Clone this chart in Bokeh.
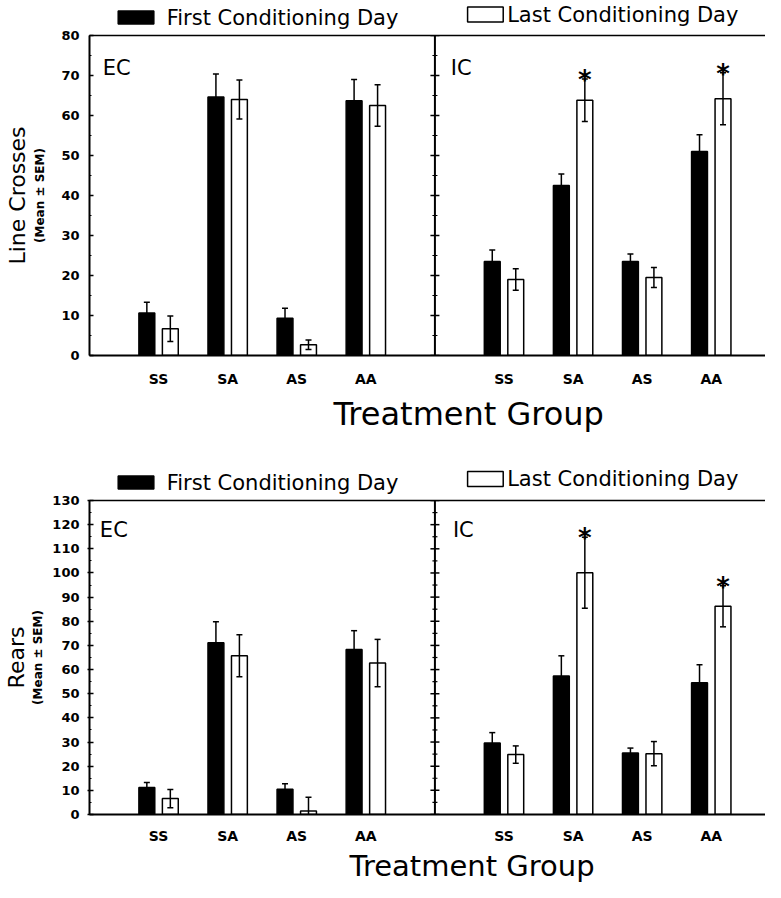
import numpy as np
from bokeh.plotting import figure
from bokeh.models import (Range1d, LinearAxis, FixedTicker, SingleIntervalTicker, Span,
                          Label, Whisker, TeeHead, ColumnDataSource, Title)
from bokeh.layouts import column
from bokeh.embed import file_html
from bokeh.resources import INLINE
from bokeh.core.properties import value

# ---------------- data ----------------
groups = ["SS", "SA", "AS", "AA"]
housing = ["EC", "IC"]
series_names = ["First Conditioning Day", "Last Conditioning Day"]
series_fill = ["black", "white"]

# Line crosses (mean, SEM)
lc_ec_first = [10.6, 64.6, 9.3, 63.7]
lc_ec_first_sem = [2.7, 5.8, 2.5, 5.3]
lc_ec_last = [6.7, 64.0, 2.7, 62.5]
lc_ec_last_sem = [3.2, 4.9, 1.2, 5.2]
lc_ic_first = [23.5, 42.5, 23.5, 51.0]
lc_ic_first_sem = [2.9, 2.9, 1.9, 4.2]
lc_ic_last = [19.0, 63.8, 19.5, 64.2]
lc_ic_last_sem = [2.7, 5.3, 2.5, 6.5]
lc_ic_sig = [False, True, False, True]

# Rears (mean, SEM)
re_ec_first = [11.2, 71.1, 10.5, 68.3]
re_ec_first_sem = [2.1, 8.7, 2.2, 7.8]
re_ec_last = [6.6, 65.7, 1.4, 62.7]
re_ec_last_sem = [3.8, 8.7, 5.7, 9.8]
re_ic_first = [29.6, 57.3, 25.5, 54.5]
re_ic_first_sem = [4.3, 8.4, 2.0, 7.5]
re_ic_last = [24.8, 100.1, 25.2, 86.2]
re_ic_last_sem = [3.6, 14.7, 5.0, 8.5]
re_ic_sig = [False, True, False, True]

FONT = "DejaVu Sans"
W = 765          # canvas width
LEFT = 82        # left border (frames of the column are aligned)
XEND = (W - LEFT) / 69.8


def make_legend(h, layout):
    """Legend strip; its frame is aligned with the panels, x_range maps canvas pixels."""
    lf = figure(width=W, height=h, x_range=Range1d(LEFT, W), y_range=Range1d(0, h),
                output_backend="svg", toolbar_location=None, x_axis_type=None,
                y_axis_type=None, min_border=0, min_border_left=LEFT, title=None)
    lf.outline_line_color = None
    lf.grid.visible = False
    for k, (cx, cy, sh, tx, ty) in enumerate(layout):
        lf.rect(x=[cx], y=[cy], width=36, height=sh, fill_color=series_fill[k],
                line_color="black", line_width=1.5)
        lf.text(x=[tx], y=[ty], text=[series_names[k]], text_baseline="middle",
                text_align="left", text_font=value(FONT), text_font_size="21px",
                text_color="black")
    return lf


def make_row(title, ymax, ec_f, ec_fs, ec_l, ec_ls, ic_f, ic_fs, ic_l, ic_ls, sig,
             fig_h, b_top, b_bottom, cfg):
    p = figure(width=W, height=fig_h, x_range=Range1d(0, XEND), y_range=Range1d(0, ymax),
               output_backend="svg", toolbar_location=None,
               min_border_left=LEFT, min_border_right=0, min_border_top=b_top,
               min_border_bottom=b_bottom)
    p.outline_line_color = None
    p.xgrid.grid_line_color = None
    p.ygrid.grid_line_color = None

    n = len(groups)
    centers = [k * 5 + i + 1 for k in range(len(housing)) for i in range(n)]
    first = ec_f + ic_f
    first_sem = ec_fs + ic_fs
    last = ec_l + ic_l
    last_sem = ec_ls + ic_ls
    off, w = 0.17, 0.23

    src_f = ColumnDataSource(dict(x=[c - off for c in centers], top=first,
                                  upper=[m + s for m, s in zip(first, first_sem)],
                                  lower=[m - s for m, s in zip(first, first_sem)]))
    src_l = ColumnDataSource(dict(x=[c + off for c in centers], top=last,
                                  upper=[m + s for m, s in zip(last, last_sem)],
                                  lower=[m - s for m, s in zip(last, last_sem)]))

    p.vbar(x="x", top="top", width=w, source=src_f, fill_color=series_fill[0],
           line_color="black", line_width=1.5)
    p.vbar(x="x", top="top", width=w, source=src_l, fill_color=series_fill[1],
           line_color="black", line_width=1.5)

    for src in (src_f, src_l):
        wk = Whisker(source=src, base="x", upper="upper", lower="lower",
                     line_color="black", line_width=1.5, level="overlay",
                     upper_head=TeeHead(size=6, line_width=1.5, line_color="black"),
                     lower_head=TeeHead(size=6, line_width=1.5, line_color="black"))
        p.add_layout(wk)

    # significance asterisks (IC, last day)
    sx = [centers[n + i] + off for i in range(n) if sig[i]]
    sy = [ic_l[i] + ic_ls[i] for i in range(n) if sig[i]]
    p.text(x=sx, y=sy, text=["*"] * len(sx), text_align="center", text_baseline="alphabetic",
           text_font=value(FONT), text_font_style="bold", text_font_size="26px",
           y_offset=cfg["star_off"], text_color="black")

    # divider between EC and IC with ticks on both sides
    p.add_layout(Span(location=5, dimension="height", line_color="black", line_width=2))
    major = np.arange(0, ymax + 1, 10)
    minor = np.arange(5, ymax, 10)
    p.scatter(x=[5] * len(major), y=major, marker="dash", size=9, line_width=1.5,
              line_color="black")
    p.scatter(x=[5] * len(minor), y=minor, marker="dash", size=5, line_width=1.2,
              line_color="black")

    # x axis
    xa = p.xaxis[0]
    xa.ticker = FixedTicker(ticks=centers)
    xa.major_label_overrides = {c: groups[i % n] for i, c in enumerate(centers)}
    xa.major_tick_line_color = None
    xa.minor_tick_line_color = None
    xa.major_tick_out = 0
    xa.axis_line_width = 2
    xa.major_label_standoff = cfg["xstand"]
    xa.major_label_text_font = FONT
    xa.major_label_text_font_style = "bold"
    xa.major_label_text_font_size = "14px"
    xa.major_label_text_color = "black"

    # y axis
    ya = p.yaxis[0]
    ya.ticker = SingleIntervalTicker(interval=10, num_minor_ticks=2)
    ya.axis_line_width = 2
    ya.major_tick_in = 4
    ya.major_tick_out = cfg["tick_out"]
    ya.minor_tick_in = 2
    ya.minor_tick_out = 0
    ya.major_tick_line_width = 1.5
    ya.major_label_standoff = cfg["ystand"]
    ya.major_label_text_font = FONT
    ya.major_label_text_font_style = "bold"
    ya.major_label_text_font_size = "13px"
    ya.major_label_text_color = "black"
    ya.axis_label = "(Mean ± SEM)"
    ya.axis_label_text_font = FONT
    ya.axis_label_text_font_style = "bold"
    ya.axis_label_text_font_size = "12px"
    ya.axis_label_text_color = "black"
    ya.axis_label_standoff = cfg["lab_stand"]

    ya2 = LinearAxis(ticker=FixedTicker(ticks=[]), axis_label=title,
                     axis_line_color=None, major_tick_line_color=None,
                     minor_tick_line_color=None, major_label_text_font_size="0px",
                     axis_label_text_font=FONT, axis_label_text_font_style="normal",
                     axis_label_text_color="black",
                     axis_label_text_font_size="22px", axis_label_standoff=cfg["t_stand"])
    p.add_layout(ya2, "left")

    top_ax = LinearAxis(ticker=FixedTicker(ticks=[]), axis_line_width=1.5,
                        major_tick_line_color=None, minor_tick_line_color=None,
                        major_tick_out=0, minor_tick_out=0, major_label_standoff=0,
                        major_label_text_font_size="0px")
    p.add_layout(top_ax, "above")

    # panel labels
    for k, h in enumerate(housing):
        p.add_layout(Label(x=cfg["panel_x"][k], y=cfg["panel_y"], text=h,
                           text_font=FONT, text_font_size="21px",
                           text_baseline="alphabetic", text_color="black"))

    # x-axis title
    p.add_layout(Title(text="Treatment Group", align="left", offset=cfg["xt_off"],
                       standoff=cfg["xt_stand"], text_font=FONT, text_font_style="normal",
                       text_font_size=cfg["xt_size"], text_color="black"), "below")
    return p


leg1 = make_legend(29, [(129, 12, 13, 160, 12), (482, 15, 15, 504, 15)])
cfg1 = dict(star_off=1, xstand=15, tick_out=0, ystand=10, lab_stand=11, t_stand=1,
            panel_x=[0.19, 5.23], panel_y=72, xt_off=244, xt_stand=6, xt_size="32px")
p1 = make_row("Line Crosses", 80, lc_ec_first, lc_ec_first_sem, lc_ec_last, lc_ec_last_sem,
              lc_ic_first, lc_ic_first_sem, lc_ic_last, lc_ic_last_sem, lc_ic_sig,
              fig_h=413, b_top=6, b_bottom=87, cfg=cfg1)

leg2 = make_legend(52, [(129, 12, 13, 160, 12), (482, 15.5, 15, 504, 15.5)])
cfg2 = dict(star_off=1, xstand=13, tick_out=2, ystand=8, lab_stand=4, t_stand=0,
            panel_x=[0.15, 5.26], panel_y=117.7, xt_off=260, xt_stand=0, xt_size="29px")
p2 = make_row("Rears", 130, re_ec_first, re_ec_first_sem, re_ec_last, re_ec_last_sem,
              re_ic_first, re_ic_first_sem, re_ic_last, re_ic_last_sem, re_ic_sig,
              fig_h=388, b_top=6, b_bottom=64, cfg=cfg2)

layout = column(leg1, p1, leg2, p2, spacing=0)
open("out.html", "w").write(file_html(layout, INLINE))
